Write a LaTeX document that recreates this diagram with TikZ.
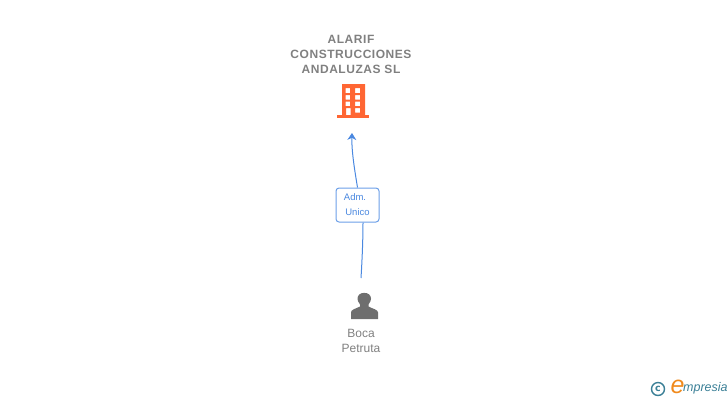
\documentclass[tikz,border=0pt]{standalone}
\usepackage{fontspec}
\setmainfont{Liberation Sans}
\newfontfamily\spacedfont[LetterSpace=4.5]{Liberation Sans}
\newfontfamily\logofont{DejaVu Sans}
\usetikzlibrary{positioning}
\usetikzlibrary{arrows.meta}
\definecolor{linkblue}{HTML}{4A88E0}
\definecolor{boxblue}{HTML}{6C9FE8}
\definecolor{iconorange}{HTML}{FF6633}
\definecolor{labelgray}{HTML}{808080}
\definecolor{persongray}{HTML}{6E6E6E}
\definecolor{logoteal}{HTML}{3A7F96}
\definecolor{logoorange}{HTML}{F08A1D}

\begin{document}
\begin{tikzpicture}[
  x=1pt,y=-1pt,
  every node/.style={align=center,inner sep=0pt},
  company/.style={font=\spacedfont\fontsize{12}{15}\selectfont\bfseries,text=labelgray},
  person/.style={font=\fontsize{12}{14.5}\selectfont,text=labelgray},
  role/.style={draw=boxblue,line width=1pt,rounded corners=3pt,fill=white,minimum width=43pt,minimum height=34pt,
    font=\fontsize{9.5}{15}\selectfont,text=linkblue},
  to/.style={-{Stealth[length=7pt,width=9pt]},linkblue,line width=1pt},
  link/.style={linkblue,line width=1pt}]

  \useasboundingbox (0,0) rectangle (728,400);

  \node[company] (alarif) at (351,54.5) {ALARIF\\CONSTRUCCIONES\\ANDALUZAS SL};
  \node[person] (boca) at (361,341) {Boca\\Petruta};
  \node[role] (adm) at (357.5,205) {\hspace{-5pt}Adm.\\Unico};

  \coordinate (arrow-top) at (352,133);
  \coordinate (link-end) at (361,278);

  % building
  \fill[iconorange,even odd rule] (342,84) rectangle (365,115)
    (345.5,88) rectangle (350,93) (355,88) rectangle (360,93)
    (345.5,95) rectangle (350,99.5) (355,95) rectangle (360,99.5)
    (345.5,101.5) rectangle (350,106) (355,101.5) rectangle (360,106)
    (346,108) rectangle (350.5,115) (355,108) rectangle (360,112.5);
  \fill[iconorange] (337,115) rectangle (369,117.5);

  % person
  \fill[persongray] (351,319) -- (351,312.5) .. controls (351,309.5) and (355,309) .. (360,306.5)
    -- (360,304.5) .. controls (358,302) and (357.5,300) .. (357.5,298.5)
    .. controls (357.5,291) and (371,291) .. (371,298.5)
    .. controls (371,300) and (370.5,302) .. (368.5,304.5) -- (368.5,306.5)
    .. controls (373,309) and (378,309.5) .. (378,312.5)
    -- (378,319) -- cycle;

  \draw[link] (link-end) .. controls (362,262) and (363,240) .. (adm.south -| 363,0);
  \draw[to] (adm.north -| 357.5,0) .. controls (355,172) and (351.5,152) .. (arrow-top);

  % logo
  \node[draw=logoteal,circle,line width=1.4pt,minimum size=13pt,font=\logofont\bfseries\fontsize{9.5}{10}\selectfont,text=logoteal] (copyright) at (658,389) {c};
  \node[font=\itshape\fontsize{25}{26}\selectfont,text=logoorange] (logo-e) at (677.5,386.5) {e};
  \node[font=\itshape\fontsize{12.5}{14}\selectfont,text=logoteal,anchor=west] (logo-name) at (683,388.5) {mpresia};
\end{tikzpicture}
\end{document}
